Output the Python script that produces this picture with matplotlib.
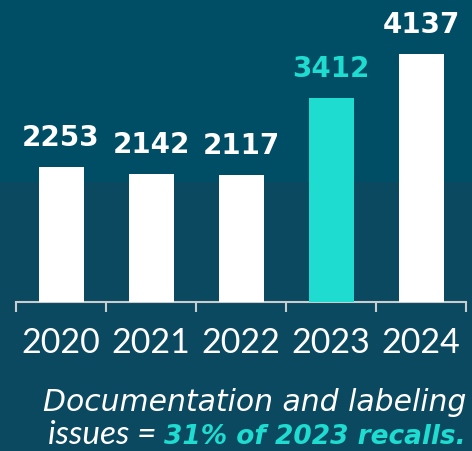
import matplotlib.pyplot as plt
from matplotlib.patches import Rectangle

# recalls per year
years = ["2020", "2021", "2022", "2023", "2024"]
recalls = [2253, 2142, 2117, 3412, 4137]
highlight = "2023"

caption_line1 = "Documentation and labeling"
caption_plain = "issues = "
caption_bold = "31% of 2023 recalls."

BG_TOP = "#004d66"
BG_LOW = "#0b4960"
TEAL = "#1edccf"

plt.rcParams["font.family"] = ["Lato", "DejaVu Sans"]

fig = plt.figure(figsize=(4.72, 4.51), dpi=100)
fig.patch.set_facecolor(BG_LOW)
# darker band behind the upper part
fig.patches.append(Rectangle((0, 0.5965), 1, 0.4035, transform=fig.transFigure,
                             facecolor=BG_TOP, edgecolor="none", zorder=-5))

ax = fig.add_axes([16 / 472, 149 / 451, 450 / 472, 302 / 451])
ax.set_zorder(2)
ax.set_facecolor("none")

x = range(len(years))
colors = [TEAL if y == highlight else "white" for y in years]
ax.bar(x, recalls, width=0.5, color=colors, edgecolor="none", zorder=3)

for i, (y, v) in enumerate(zip(years, recalls)):
    ax.annotate(str(v), (i, v), xytext=(0, 15), textcoords="offset points",
                ha="center", va="baseline", fontsize=20, fontweight="bold",
                family="DejaVu Sans",
                color=TEAL if y == highlight else "white")
    ax.annotate(y, (i, 0), xytext=(0, -37), textcoords="offset points",
                ha="center", va="baseline", fontsize=24.5, fontweight="normal",
                color="white", annotation_clip=False)

ax.set_xlim(-0.5, len(years) - 0.5)
ax.set_ylim(0, 5040)

for s in ["top", "right", "left"]:
    ax.spines[s].set_visible(False)
ax.spines["bottom"].set_color("#c9cdd0")
ax.spines["bottom"].set_linewidth(1.5)
ax.set_yticks([])
ax.set_xticks([i - 0.5 for i in range(len(years) + 1)])
ax.set_xticklabels([])
ax.tick_params(axis="x", direction="out", length=7, width=1.5, color="#c9cdd0")

fig.text(466 / 472, 1 - 411 / 451, caption_line1, ha="right", va="baseline",
         fontsize=21.5, style="italic", family="DejaVu Sans", color="white")
tb = fig.text(466 / 472, 1 - 444 / 451, caption_bold, ha="right", va="baseline",
              fontsize=19, style="italic", fontweight="bold", family="DejaVu Sans",
              color=TEAL)
fig.canvas.draw()
bb = tb.get_window_extent()
fig.text(bb.x0 / fig.bbox.width, 1 - 444 / 451, caption_plain, ha="right",
         va="baseline", fontsize=24, style="italic", color="white")

fig.savefig("out.png", dpi=100, facecolor=fig.get_facecolor())
